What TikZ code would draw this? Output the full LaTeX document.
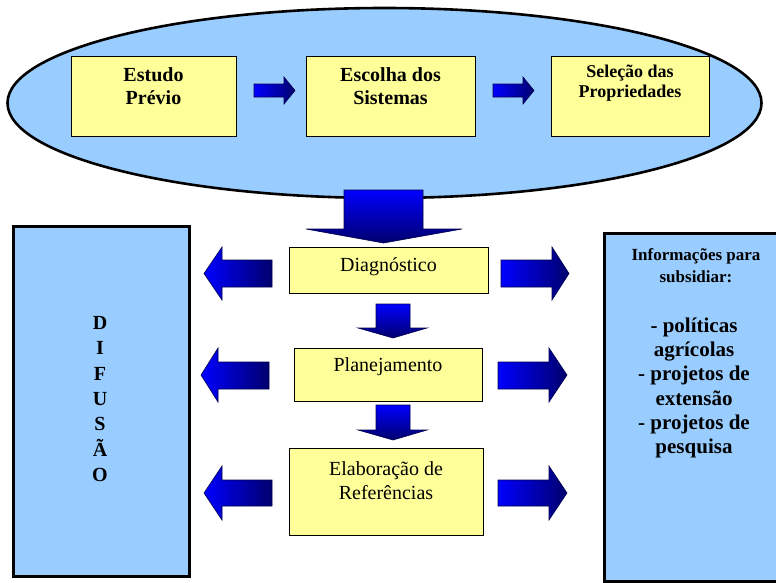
\documentclass[tikz,border=0pt]{standalone}
\usepackage{fontspec}
\setmainfont{Liberation Serif}
\definecolor{skyblue}{HTML}{99CCFF}
\definecolor{paleyellow}{HTML}{FFFF99}
\definecolor{arrowhi}{HTML}{0000FF}
\definecolor{arrowlo}{HTML}{00006E}

\begin{document}
\begin{tikzpicture}[x=1pt,y=-1pt,
    ybox/.style={draw, fill=paleyellow, line width=0.8pt, inner sep=0pt, anchor=north west},
    bbox/.style={draw, fill=skyblue, line width=2.6pt, inner sep=0pt, anchor=north west},
    harrow/.style={draw=arrowlo!70!black, line width=0.6pt, left color=arrowhi, right color=arrowlo},
    varrow/.style={draw=arrowlo!70!black, line width=0.6pt, top color=arrowhi, bottom color=arrowlo}]
    \useasboundingbox (0,0) rectangle (776,582);
    % etapa inicial
    \draw[line width=2.6pt, fill=skyblue] (384.5,103) ellipse [x radius=377, y radius=95];
    \node[ybox, minimum width=165pt, minimum height=80pt] (estudo) at (71,56) {};
    \node[ybox, minimum width=169pt, minimum height=80pt] (escolha) at (306,56) {};
    \node[ybox, minimum width=158pt, minimum height=80pt] (selecao) at (551,56) {};
    \node[font=\fontsize{20}{23}\selectfont\bfseries, align=center] (estudotxt) at (153.5,86) {Estudo\\Prévio};
    \node[font=\fontsize{20}{23}\selectfont\bfseries, align=center] (escolhatxt) at (390.5,86) {Escolha dos\\Sistemas};
    \node[font=\fontsize{18}{20}\selectfont\bfseries, align=center] (selecaotxt) at (630,83) {Seleção das\\Propriedades};
    \draw[harrow] (254,84) -- (284,84) -- (284,77) -- (295,90.5) -- (284,104) -- (284,97) -- (254,97) -- cycle;
    \draw[harrow] (493,84) -- (523,84) -- (523,77) -- (534,90.5) -- (523,104) -- (523,97) -- (493,97) -- cycle;
    \draw[varrow] (344,190) -- (423,190) -- (423,229) -- (462,229) -- (383.5,243) -- (306,229) -- (344,229) -- cycle;
    % etapas
    \node[ybox, minimum width=199pt, minimum height=46pt] (diag) at (289,247) {};
    \node[ybox, minimum width=188pt, minimum height=53pt] (plan) at (294,348) {};
    \node[ybox, minimum width=194pt, minimum height=87pt] (elab) at (289,448) {};
    \node[font=\fontsize{20}{24}\selectfont] (diagtxt) at (388.5,267) {Diagnóstico};
    \node[font=\fontsize{20}{24}\selectfont] (plantxt) at (388,367) {Planejamento};
    \node[font=\fontsize{20}{24}\selectfont, align=center] (elabtxt) at (386,481) {Elaboração de\\Referências};
    \draw[varrow] (376,304) -- (410,304) -- (410,328) -- (427,328) -- (393,338) -- (358,328) -- (376,328) -- cycle;
    \draw[varrow] (376,405) -- (410,405) -- (410,430) -- (427,430) -- (393,440) -- (358,430) -- (376,430) -- cycle;
    % setas laterais
    \draw[harrow] (272,260) -- (222,260) -- (222,247) -- (204,273.5) -- (222,300) -- (222,287) -- (272,287) -- cycle;
    \draw[harrow] (501,260) -- (552,260) -- (552,247) -- (569,273.5) -- (552,300) -- (552,287) -- (501,287) -- cycle;
    \draw[harrow] (269,362) -- (218,362) -- (218,348) -- (201,375) -- (218,402) -- (218,389) -- (269,389) -- cycle;
    \draw[harrow] (498,362) -- (549,362) -- (549,348) -- (567,375) -- (549,402) -- (549,389) -- (498,389) -- cycle;
    \draw[harrow] (272,480) -- (222,480) -- (222,466) -- (204,493) -- (222,520) -- (222,506) -- (272,506) -- cycle;
    \draw[harrow] (498,480) -- (549,480) -- (549,466) -- (567,493) -- (549,520) -- (549,506) -- (498,506) -- cycle;
    % difusao e informacoes
    \node[bbox, minimum width=176pt, minimum height=350pt] (difusao) at (12,225) {};
    \node[font=\fontsize{20}{25.3}\selectfont\bfseries, align=center] (difusaotxt) at (100,399) {D\\I\\F\\U\\S\\Ã\\O};
    \node[bbox, minimum width=190pt, minimum height=348pt] (subsidio) at (603,232) {};
    \node[font=\fontsize{17}{22}\selectfont\bfseries, align=center] (subsidiotit) at (696,266) {Informações para\\subsidiar:};
    \node[font=\fontsize{21}{24.2}\selectfont\bfseries, align=center] (subsidiotxt) at (694,388) {- políticas\\agrícolas\\- projetos de\\extensão\\- projetos de\\pesquisa};
\end{tikzpicture}
\end{document}
